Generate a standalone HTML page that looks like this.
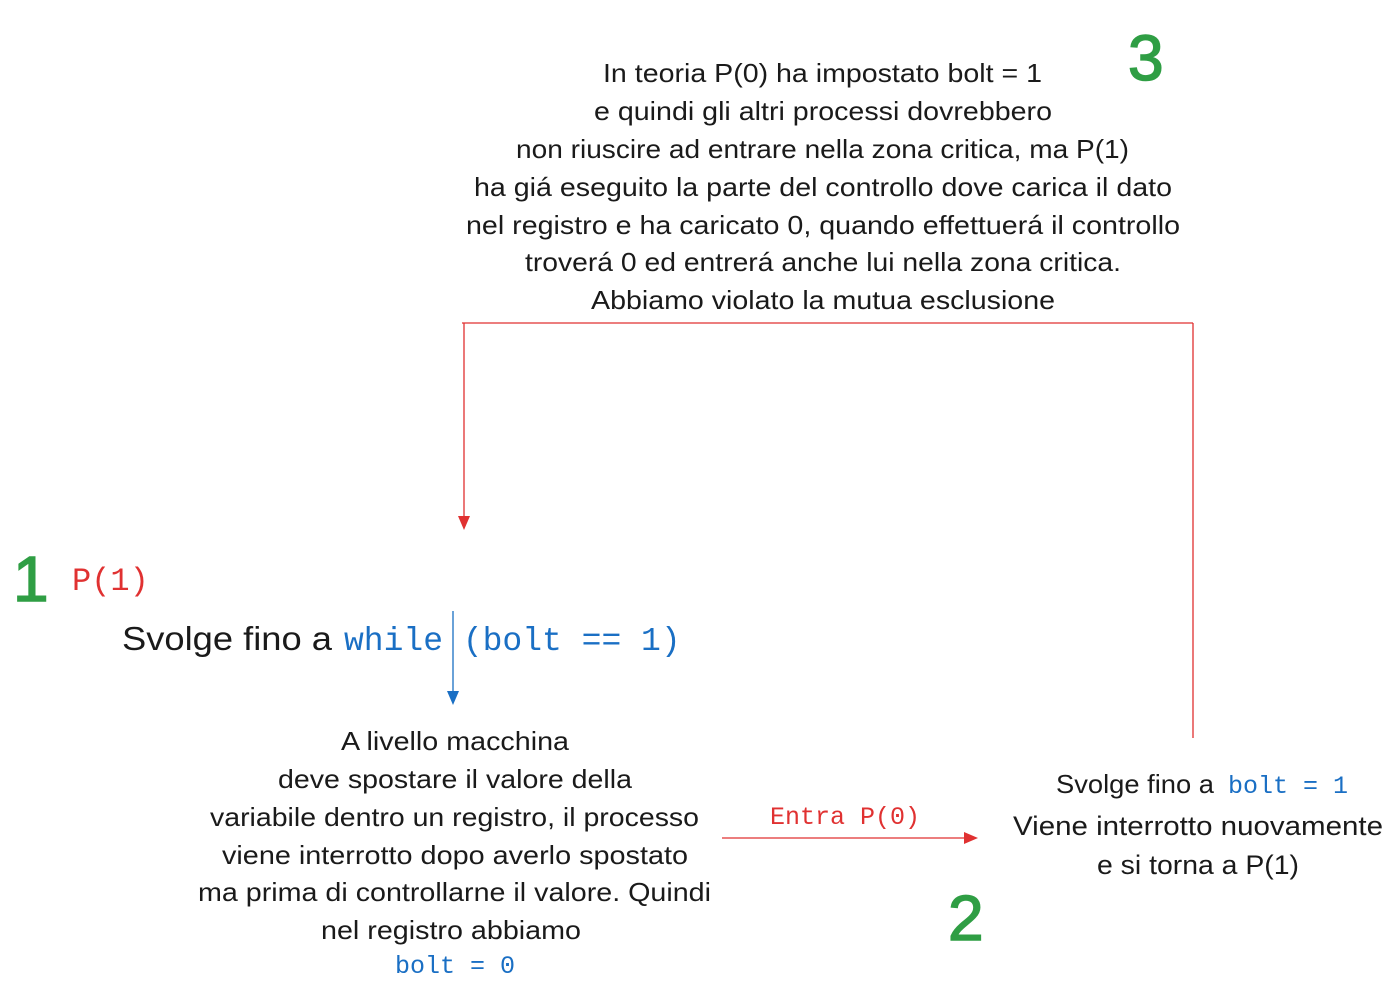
<!DOCTYPE html>
<html><head><meta charset="utf-8"><style>body{margin:0;background:#fff}svg{display:block}</style></head><body>
<svg width="1394" height="994" xmlns="http://www.w3.org/2000/svg">
<g font-family="Liberation Sans, sans-serif" font-size="26" fill="#1a1a1a" lengthAdjust="spacingAndGlyphs">
<text x="603" y="82" textLength="439" lengthAdjust="spacingAndGlyphs">In teoria P(0) ha impostato bolt = 1</text>
<text x="594" y="120" textLength="458" lengthAdjust="spacingAndGlyphs">e quindi gli altri processi dovrebbero</text>
<text x="516" y="158" textLength="613" lengthAdjust="spacingAndGlyphs">non riuscire ad entrare nella zona critica, ma P(1)</text>
<text x="474" y="196" textLength="698" lengthAdjust="spacingAndGlyphs">ha giá eseguito la parte del controllo dove carica il dato</text>
<text x="466" y="234" textLength="714" lengthAdjust="spacingAndGlyphs">nel registro e ha caricato 0, quando effettuerá il controllo</text>
<text x="525" y="271" textLength="596" lengthAdjust="spacingAndGlyphs">troverá 0 ed entrerá anche lui nella zona critica.</text>
<text x="591" y="309" textLength="464" lengthAdjust="spacingAndGlyphs">Abbiamo violato la mutua esclusione</text>
<text x="341" y="750" textLength="228" lengthAdjust="spacingAndGlyphs">A livello macchina</text>
<text x="278" y="788" textLength="354" lengthAdjust="spacingAndGlyphs">deve spostare il valore della</text>
<text x="210" y="826" textLength="489" lengthAdjust="spacingAndGlyphs">variabile dentro un registro, il processo</text>
<text x="222" y="864" textLength="466" lengthAdjust="spacingAndGlyphs">viene interrotto dopo averlo spostato</text>
<text x="198" y="901" textLength="513" lengthAdjust="spacingAndGlyphs">ma prima di controllarne il valore. Quindi</text>
<text x="321" y="939" textLength="260" lengthAdjust="spacingAndGlyphs">nel registro abbiamo</text>
<text x="1013" y="835" font-size="27" textLength="370" lengthAdjust="spacingAndGlyphs">Viene interrotto nuovamente</text>
<text x="1097" y="874" font-size="27" textLength="202" lengthAdjust="spacingAndGlyphs">e si torna a P(1)</text>
<text x="1056" y="793" textLength="158" lengthAdjust="spacingAndGlyphs">Svolge fino a</text>
<text x="122" y="650" font-size="33" textLength="210" lengthAdjust="spacingAndGlyphs">Svolge fino a</text>
</g>
<text x="455" y="973" text-anchor="middle" font-family="Liberation Mono, monospace" font-size="25" fill="#1a6fc4">bolt = 0</text>
<text x="1228" y="793" font-family="Liberation Mono, monospace" font-size="25" fill="#1a6fc4">bolt = 1</text>
<text x="344" y="650" font-family="Liberation Mono, monospace" font-size="33" fill="#1a6fc4">while (bolt == 1)</text>
<text x="72" y="590" font-family="Liberation Mono, monospace" font-size="32" fill="#e03131">P(1)</text>
<text x="845" y="824" text-anchor="middle" font-family="Liberation Mono, monospace" font-size="25" fill="#e03131">Entra P(0)</text>
<g font-family="Liberation Sans, sans-serif" font-size="64" fill="#2f9e44" stroke="#2f9e44" stroke-width="1.5">
<text x="13" y="601">1</text>
<text x="948" y="940">2</text>
<text x="1128" y="80">3</text>
</g>
<g stroke="#e03131" stroke-width="1.3" fill="none">
<line x1="462" y1="323" x2="1193" y2="323"/>
<line x1="1193" y1="323" x2="1193" y2="738"/>
<line x1="464" y1="323" x2="464" y2="518"/>
<line x1="722" y1="838" x2="966" y2="838"/>
</g>
<polygon points="458,516 470,516 464,530" fill="#e03131"/>
<polygon points="964,832 964,844 978,838" fill="#e03131"/>
<line x1="453" y1="611" x2="453" y2="693" stroke="#1a6fc4" stroke-width="1.3"/>
<polygon points="447,691 459,691 453,705" fill="#1a6fc4"/>
</svg>
</body></html>
